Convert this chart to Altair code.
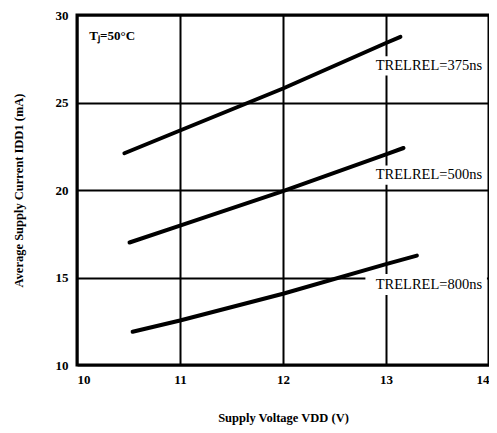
import altair as alt
import pandas as pd

# Data
series = ["375ns", "500ns", "800ns"]
vdd_375 = [10.46, 11.0, 12.0, 13.0, 13.14]
idd_375 = [22.1, 23.4, 25.8, 28.4, 28.75]
vdd_500 = [10.51, 11.0, 12.0, 13.0, 13.17]
idd_500 = [17.0, 17.97, 19.94, 22.03, 22.4]
vdd_800 = [10.54, 11.0, 12.0, 13.0, 13.3]
idd_800 = [11.9, 12.54, 14.07, 15.76, 16.25]

label_text = ["TRELREL=375ns", "TRELREL=500ns", "TRELREL=800ns"]
label_x = [12.9, 12.9, 12.9]
label_y = [27.1, 20.85, 14.6]
box_x0 = [12.84, 12.84, 12.8]
box_x1 = [13.98, 13.98, 13.98]
box_half = [0.55, 0.55, 0.6]

x_ticks = [10, 11, 12, 13, 14]
y_ticks = [10, 15, 20, 25, 30]

rows = []
for s, xs, ys in zip(series, [vdd_375, vdd_500, vdd_800], [idd_375, idd_500, idd_800]):
    for a, b in zip(xs, ys):
        rows.append({"series": s, "vdd": a, "idd": b})
lines_df = pd.DataFrame(rows)

lab_df = pd.DataFrame({
    "text": label_text, "x": label_x, "y": label_y,
    "x0": box_x0, "x1": box_x1,
    "y0": [y - h for y, h in zip(label_y, box_half)],
    "y1": [y + h for y, h in zip(label_y, box_half)],
})
note_df = pd.DataFrame({"text": ["T\u2C7C=50\u00B0C"], "x": [10.12], "y": [28.8]})

FONT = "Liberation Serif"

xs = alt.Scale(domain=[10, 14], nice=False, zero=False)
ys = alt.Scale(domain=[10, 30], nice=False, zero=False)

x_axis = alt.Axis(values=x_ticks, title="Supply Voltage  VDD (V)", grid=True,
                  ticks=False, labelPadding=8, titlePadding=25, format="d")
y_axis = alt.Axis(values=y_ticks, title="Average Supply Current  IDD1 (mA)", grid=True,
                  ticks=False, labelPadding=9, titlePadding=30, format="d")

lines = alt.Chart(lines_df).mark_line(color="black", strokeWidth=4, strokeCap="round").encode(
    x=alt.X("vdd:Q", scale=xs, axis=x_axis),
    y=alt.Y("idd:Q", scale=ys, axis=y_axis),
    detail="series:N",
)

boxes = alt.Chart(lab_df).mark_rect(color="white").encode(
    x=alt.X("x0:Q", scale=xs), x2="x1:Q",
    y=alt.Y("y0:Q", scale=ys), y2="y1:Q",
)

labels = alt.Chart(lab_df).mark_text(align="left", baseline="middle", font=FONT,
                                     fontSize=14.5, color="black").encode(
    x=alt.X("x:Q", scale=xs), y=alt.Y("y:Q", scale=ys), text="text:N"
)

note = alt.Chart(note_df).mark_text(align="left", baseline="middle", font=FONT,
                                    fontSize=13, fontWeight="bold", color="black").encode(
    x=alt.X("x:Q", scale=xs), y=alt.Y("y:Q", scale=ys), text="text:N"
)

chart = alt.layer(boxes, lines, labels, note).properties(
    width=412, height=350,
    autosize=alt.AutoSizeParams(type="none"),
    padding={"left": 69, "top": 7, "right": 0, "bottom": 60},
).configure_view(
    stroke="black", strokeWidth=3
).configure_axis(
    domain=False, gridColor="black", gridWidth=2, gridOpacity=1,
    labelFont=FONT, labelFontSize=13, labelFontWeight="bold", labelColor="black",
    titleFont=FONT, titleFontSize=12.5, titleFontWeight="bold", titleColor="black",
).configure_axisY(
    labelBaseline="middle"
)

chart.save("out.html", embed_options={"renderer": "svg", "actions": False})
